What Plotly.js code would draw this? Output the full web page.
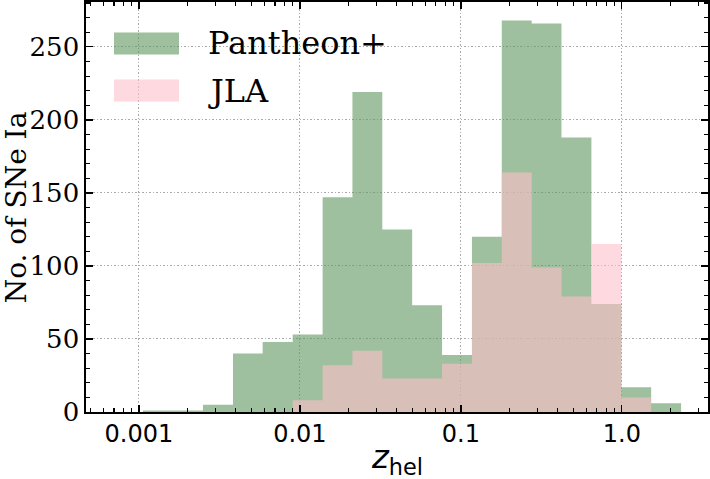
<!DOCTYPE html>
<html>
<head>
<meta charset="utf-8">
<script src="https://cdn.plot.ly/plotly-3.0.1.min.js"></script>
<style>html,body{margin:0;padding:0;background:#fff;}#chart{width:710px;height:479px;}</style>
</head>
<body>
<div id="chart"></div>
<script>
// Bin edges in heliocentric redshift (log-spaced bins)
const binEdges = [0.00106, 0.00163, 0.00250, 0.00384, 0.00587, 0.00902, 0.01384, 0.0212, 0.0325,
                  0.0498, 0.0764, 0.1172, 0.1795, 0.2754, 0.4217, 0.647, 0.993, 1.521, 2.333];
// Counts per bin
const pantheonCounts = [1, 1, 5, 40, 48, 53, 147, 219, 125, 73, 39, 120, 268, 266, 188, 74, 17, 6];
const jlaCounts      = [0, 0, 0, 0, 0, 8, 32, 42, 23, 23, 33, 102, 164, 99, 79, 115, 10, 0];
const seriesNames = ["Pantheon+", "JLA"];
const xTitle = "<i>z</i><sub>hel</sub>";
const yTitle = "No. of SNe Ia";
const xTickVals = [0.001, 0.01, 0.1, 1.0];
const xTickText = ["0.001", "0.01", "0.1", "1.0"];
const xMinorVals = [0.0005,0.0006,0.0007,0.0008,0.0009,
  0.002,0.003,0.004,0.005,0.006,0.007,0.008,0.009,
  0.02,0.03,0.04,0.05,0.06,0.07,0.08,0.09,
  0.2,0.3,0.4,0.5,0.6,0.7,0.8,0.9,2,3];
const yTickVals = [0, 50, 100, 150, 200, 250];

const greenFill = "rgba(95,150,95,0.6)";
const pinkFill = "rgba(255,192,203,0.6)";

function stepTrace(counts, name, color) {
  const x = binEdges.slice();
  const y = counts.concat([counts[counts.length - 1]]);
  return {
    type: "scatter", mode: "lines", x: x, y: y, name: name,
    line: {shape: "hv", width: 0, color: color},
    fill: "tozeroy", fillcolor: color, showlegend: false, hoverinfo: "skip"
  };
}

const data = [
  stepTrace(pantheonCounts, seriesNames[0], greenFill),
  stepTrace(jlaCounts, seriesNames[1], pinkFill)
];

const axisCommon = {
  showline: true, linecolor: "#000", linewidth: 1.6, mirror: "allticks",
  ticks: "inside", ticklen: 7, tickwidth: 1.3, tickcolor: "#000",
  showgrid: true, gridcolor: "#aaaaaa", gridwidth: 1, griddash: "1.5px,2px",
  zeroline: false
};

const layout = {
  width: 710, height: 479,
  margin: {l: 86, r: 2, t: 2, b: 67},
  paper_bgcolor: "#fff", plot_bgcolor: "#fff",
  showlegend: false,
  xaxis: Object.assign({}, axisCommon, {
    type: "log",
    range: [Math.log10(0.000469), Math.log10(3.43)],
    tickmode: "array", tickvals: xTickVals, ticktext: xTickText,
    tickfont: {family: "DejaVu Sans", size: 24, color: "#000"},
    minor: {tickmode: "array", tickvals: xMinorVals, ticks: "inside", ticklen: 4, tickwidth: 1.1, tickcolor: "#000", showgrid: false}
  }),
  yaxis: Object.assign({}, axisCommon, {
    range: [0, 280.7],
    tickmode: "array", tickvals: yTickVals,
    tickfont: {family: "DejaVu Serif", size: 26, color: "#000"},
    minor: {dtick: 10, ticks: "inside", ticklen: 4, tickwidth: 1.1, tickcolor: "#000", showgrid: false}
  }),
  shapes: [
    {type: "rect", xref: "paper", yref: "paper", x0: 0.045, x1: 0.1495, y0: 0.872, y1: 0.9257,
     fillcolor: greenFill, line: {width: 0}, layer: "above"},
    {type: "rect", xref: "paper", yref: "paper", x0: 0.045, x1: 0.1495, y0: 0.7576, y1: 0.811,
     fillcolor: pinkFill, line: {width: 0}, layer: "above"}
  ],
  annotations: [
    {xref: "paper", yref: "paper", x: 0.193, y: 0.899, xanchor: "left", yanchor: "middle",
     text: seriesNames[0], showarrow: false, font: {family: "DejaVu Serif", size: 32, color: "#000"}},
    {xref: "paper", yref: "paper", x: 0.193, y: 0.784, xanchor: "left", yanchor: "middle",
     text: seriesNames[1], showarrow: false, font: {family: "DejaVu Serif", size: 32, color: "#000"}},
    {xref: "paper", yref: "paper", x: 0.5, y: -0.115, xanchor: "center", yanchor: "middle",
     text: xTitle, showarrow: false, font: {family: "DejaVu Sans", size: 32, color: "#000"}},
    {xref: "paper", yref: "paper", x: -0.112, y: 0.5, xanchor: "center", yanchor: "middle", textangle: -90,
     text: yTitle, showarrow: false, borderpad: 0, font: {family: "DejaVu Serif", size: 28, color: "#000"}}
  ]
};

Plotly.newPlot("chart", data, layout, {displayModeBar: false, staticPlot: true});
</script>
</body>
</html>
